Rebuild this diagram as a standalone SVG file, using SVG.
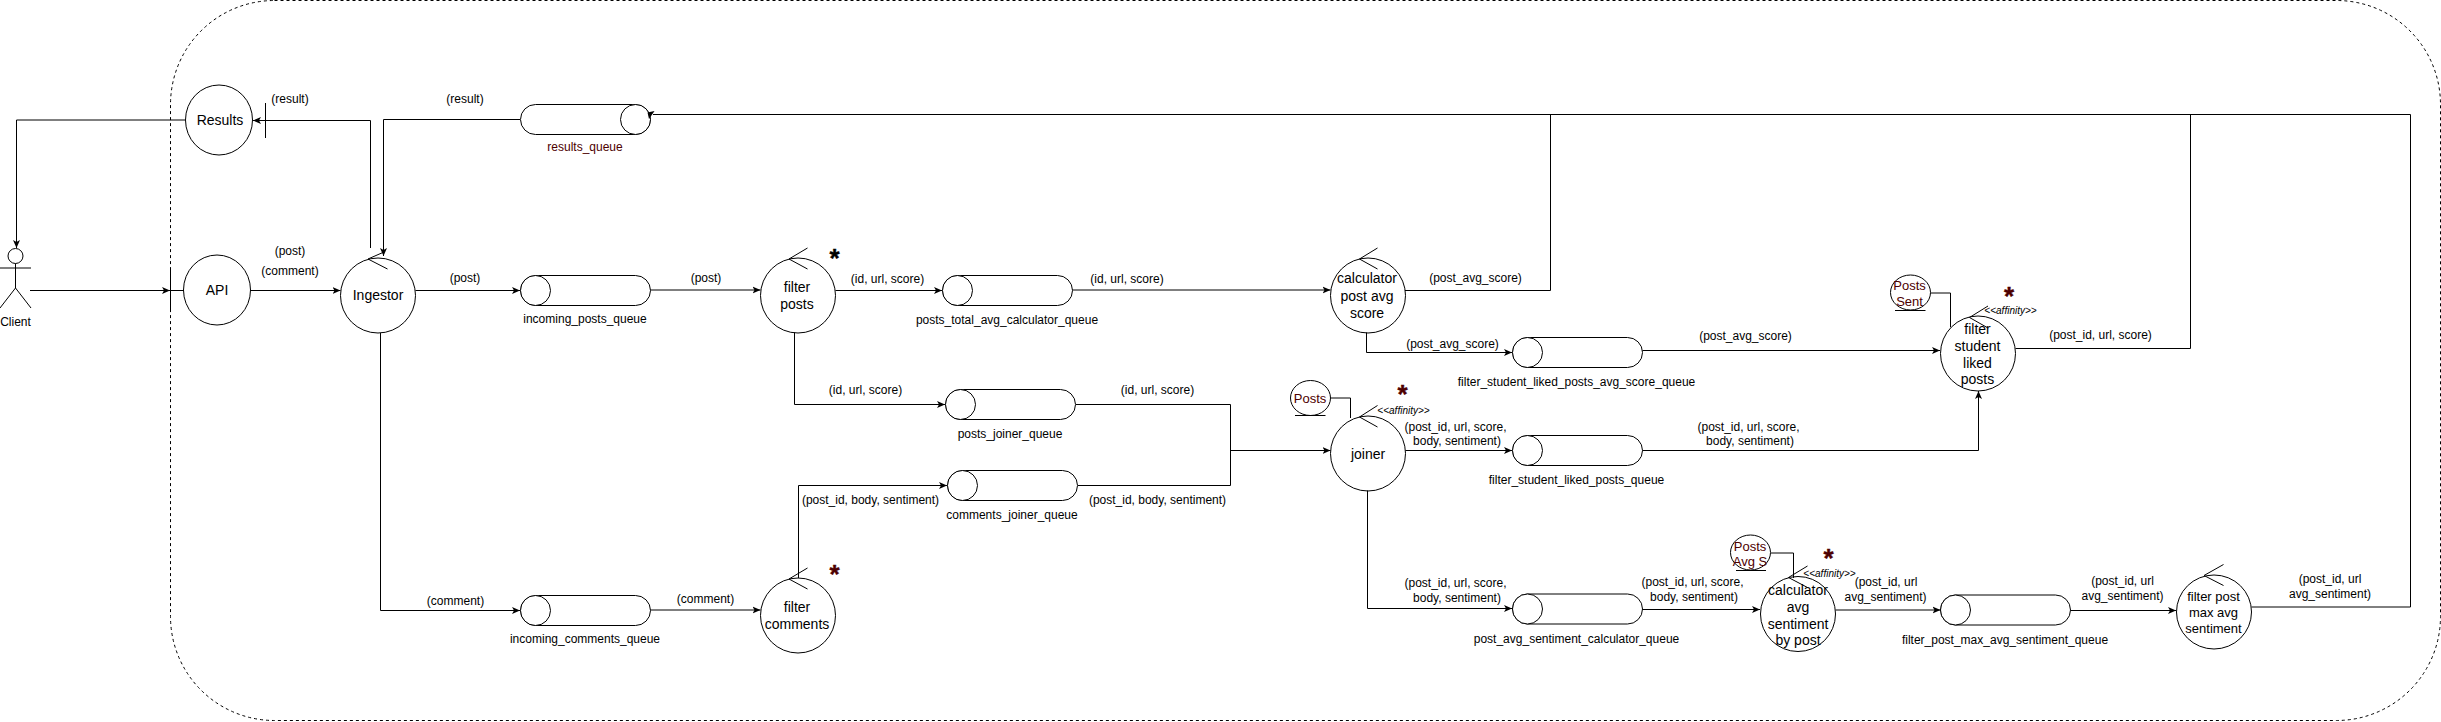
<svg xmlns="http://www.w3.org/2000/svg" width="2441" height="722" viewBox="0 0 2441 722">
<style>
text{font-family:"Liberation Sans",Arial,sans-serif;font-size:12px;fill:#000;text-anchor:middle;dominant-baseline:central}
.n{font-size:14px}
.m{font-size:13px}
.d{fill:#4d0000}
.aff{font-size:10px;font-style:italic}
.star{font-size:26px;font-weight:bold;stroke:currentColor;stroke-width:0.4}
ellipse,rect.q{fill:#fff;stroke:#000;stroke-width:1}
.c path{fill:none;stroke:#000;stroke-width:1}
.c path.h{fill:#000;stroke:none}
.a{marker-end:url(#ah)}
.l{fill:none;stroke:#000;stroke-width:1}
</style>
<defs>
<marker id="ah" viewBox="0 0 8 8" refX="8" refY="4" markerWidth="8" markerHeight="8" markerUnits="userSpaceOnUse" orient="auto"><path d="M0 0.5L8 4L0 7.5L2 4Z" fill="#000"/></marker>
<g id="queue"><rect class="q" x="0" y="0" width="130" height="30" rx="15" ry="15"/></g>
</defs>
<rect id="boundary" x="170.5" y="0.5" width="2270" height="720" rx="104" ry="104" fill="none" stroke="#000" stroke-width="1" stroke-dasharray="3 3"/>
<g id="edge-labels">
<text x="290" y="99">(result)</text>
<text x="465" y="99">(result)</text>
<text x="290" y="251">(post)</text>
<text x="290" y="271">(comment)</text>
<text x="465" y="278">(post)</text>
<text x="706" y="278">(post)</text>
<text x="887.5" y="279">(id, url, score)</text>
<text x="1127" y="279">(id, url, score)</text>
<text x="865.5" y="390">(id, url, score)</text>
<text x="1157.5" y="390">(id, url, score)</text>
<text x="870.5" y="499.5">(post_id, body, sentiment)</text>
<text x="1157.5" y="499.5">(post_id, body, sentiment)</text>
<text x="455.5" y="601">(comment)</text>
<text x="705.5" y="599">(comment)</text>
<text x="1475.5" y="278">(post_avg_score)</text>
<text x="1452.5" y="343.5">(post_avg_score)</text>
<text x="1745.5" y="335.5">(post_avg_score)</text>
<text x="2100.5" y="335">(post_id, url, score)</text>
<text x="1455.5" y="426.5">(post_id, url, score,</text>
<text x="1457" y="441">body, sentiment)</text>
<text x="1748.5" y="426.5">(post_id, url, score,</text>
<text x="1750" y="441">body, sentiment)</text>
<text x="1455.5" y="583">(post_id, url, score,</text>
<text x="1457" y="598">body, sentiment)</text>
<text x="1692.5" y="582">(post_id, url, score,</text>
<text x="1694" y="597">body, sentiment)</text>
<text x="1886" y="582">(post_id, url</text>
<text x="1885.5" y="597">avg_sentiment)</text>
<text x="2122.5" y="581">(post_id, url</text>
<text x="2122.5" y="596">avg_sentiment)</text>
<text x="2330" y="578.5">(post_id, url</text>
<text x="2330" y="593.5">avg_sentiment)</text>
</g>
<g id="client">
<ellipse cx="15.5" cy="256" rx="7.5" ry="7.5"/>
<path class="l" d="M15.5 263.5V288M0 308L15.5 288L31 308"/>
<path class="l" d="M0 268H31"/>
<text x="15.5" y="322">Client</text>
</g>
<g id="api"><path class="l" d="M170.5 270V310"/><ellipse cx="217" cy="290" rx="33.5" ry="35"/><text class="n" x="217" y="290">API</text></g>
<g id="results"><path class="l" d="M265.5 103V138"/><ellipse cx="219" cy="120" rx="33.5" ry="35"/><text class="n" x="220" y="120">Results</text></g>
<g id="ingestor"><ellipse cx="378" cy="295.5" rx="37.5" ry="37.5"/><path class="l" d="M384 252L368 259L387.5 269"/><text class="n" x="378" y="295">Ingestor</text></g>
<g id="results_queue"><use href="#queue" x="520.5" y="104.5"/><ellipse cx="635.5" cy="119.5" rx="15" ry="15"/><text class="d" x="585" y="147">results_queue</text></g>
<g id="incoming_posts_queue"><use href="#queue" x="520.5" y="275.5"/><ellipse cx="535.5" cy="290.5" rx="15" ry="15"/><text x="585" y="319">incoming_posts_queue</text></g>
<g id="incoming_comments_queue"><use href="#queue" x="520.5" y="595.5"/><ellipse cx="535.5" cy="610.5" rx="15" ry="15"/><text x="585" y="639">incoming_comments_queue</text></g>
<g id="filter_posts"><ellipse cx="798" cy="295.5" rx="37.5" ry="37.5"/><path class="l" d="M807.5 248L789 259L807.5 269"/><text class="n" x="797" y="287">filter</text><text class="n" x="797" y="304">posts</text><text class="star" x="834.5" y="258">*</text></g>
<g id="filter_comments"><ellipse cx="798" cy="615.5" rx="37.5" ry="37.5"/><path class="l" d="M807.5 568L789 579L807.5 589"/><text class="n" x="797" y="607">filter</text><text class="n" x="797" y="624">comments</text><text class="star d" x="834.5" y="574" color="#4d0000">*</text></g>
<g id="posts_total_avg_calculator_queue"><use href="#queue" x="942.5" y="275.5"/><ellipse cx="957.5" cy="290.5" rx="15" ry="15"/><text x="1007" y="320">posts_total_avg_calculator_queue</text></g>
<g id="posts_joiner_queue"><use href="#queue" x="945.5" y="389.5"/><ellipse cx="960.5" cy="404.5" rx="15" ry="15"/><text x="1010" y="434">posts_joiner_queue</text></g>
<g id="comments_joiner_queue"><use href="#queue" x="947.5" y="470.5"/><ellipse cx="962.5" cy="485.5" rx="15" ry="15"/><text x="1012" y="515">comments_joiner_queue</text></g>
<g id="calculator_post_avg_score"><ellipse cx="1368" cy="295.5" rx="37.5" ry="37.5"/><path class="l" d="M1377.5 248L1359.5 259L1377.5 269"/><text class="n" x="1367" y="278">calculator</text><text class="n" x="1367" y="295.5">post avg</text><text class="n" x="1367" y="312.5">score</text></g>
<g id="filter_student_liked_posts_avg_score_queue"><use href="#queue" x="1512.5" y="337.5"/><ellipse cx="1527.5" cy="352.5" rx="15" ry="15"/><text x="1576.5" y="382">filter_student_liked_posts_avg_score_queue</text></g>
<g id="filter_student_liked_posts_queue"><use href="#queue" x="1512.5" y="435.5"/><ellipse cx="1527.5" cy="450.5" rx="15" ry="15"/><text x="1576.5" y="480">filter_student_liked_posts_queue</text></g>
<g id="post_avg_sentiment_calculator_queue"><use href="#queue" x="1512.5" y="594"/><ellipse cx="1527.5" cy="609" rx="15" ry="15"/><text x="1576.5" y="639">post_avg_sentiment_calculator_queue</text></g>
<g id="filter_post_max_avg_sentiment_queue"><use href="#queue" x="1940.5" y="595"/><ellipse cx="1955.5" cy="610" rx="15" ry="15"/><text x="2005" y="640">filter_post_max_avg_sentiment_queue</text></g>
<g id="joiner"><ellipse cx="1368" cy="453.5" rx="37.5" ry="37.5"/><path class="l" d="M1377.5 405.5L1359.5 417L1377.5 427"/><text class="n" x="1368" y="453.5">joiner</text><text class="aff" x="1403.5" y="410">&lt;&lt;affinity&gt;&gt;</text><text class="star d" x="1402.5" y="394" color="#4d0000">*</text></g>
<g id="posts_store"><ellipse cx="1310.5" cy="398" rx="20" ry="17.5"/><path class="l" d="M1295 415.5H1325.5"/><text class="m d" x="1310" y="398">Posts</text></g>
<g id="filter_student_liked_posts"><ellipse cx="1978" cy="353.5" rx="37.5" ry="37.5"/><path class="l" d="M1988 306L1969.5 317.5L1988 328"/><text class="n" x="1977.5" y="328.5">filter</text><text class="n" x="1977.5" y="345.5">student</text><text class="n" x="1977.5" y="362.5">liked</text><text class="n" x="1977.5" y="378.5">posts</text><text class="aff" x="2010.5" y="310.5">&lt;&lt;affinity&gt;&gt;</text><text class="star d" x="2009" y="296" color="#4d0000">*</text></g>
<g id="posts_sent"><ellipse cx="1910.5" cy="292.5" rx="20" ry="17.5"/><path class="l" d="M1895 310.5H1925.5"/><text class="m d" x="1909.5" y="285.5">Posts</text><text class="m d" x="1909.5" y="301.5">Sent</text></g>
<g id="calculator_avg_sentiment"><ellipse cx="1798" cy="614" rx="37.5" ry="37.5"/><path class="l" d="M1807.5 566L1788.5 577.5L1807.5 587.5"/><text class="n" x="1798" y="589.5">calculator</text><text class="n" x="1798" y="606.5">avg</text><text class="n" x="1798" y="623.5">sentiment</text><text class="n" x="1798" y="639.5">by post</text><text class="aff" x="1829.5" y="573.5">&lt;&lt;affinity&gt;&gt;</text><text class="star d" x="1828.5" y="558" color="#4d0000">*</text></g>
<g id="posts_avg_s"><ellipse cx="1750.5" cy="552.5" rx="20" ry="17.5"/><path class="l" d="M1736 570.5H1766"/><text class="m d" x="1750" y="546">Posts</text><text class="m d" x="1750" y="561.5">Avg S</text></g>
<g id="filter_post_max"><ellipse cx="2214" cy="612" rx="37.5" ry="37"/><path class="l" d="M2223.5 564.5L2204 575.5L2223.5 585.5"/><text class="m" x="2213.5" y="596.5">filter post</text><text class="m" x="2213.5" y="612.5">max avg</text><text class="m" x="2213.5" y="628">sentiment</text></g>
<g id="connectors" class="c">
<path class="a" d="M185 120H16.5V248"/>
<path class="a" d="M370.5 248V120.5H253"/>
<path class="a" d="M520 119.5H383.5V256"/>
<path class="a" d="M30 290.5H170"/>
<path d="M170 290.5H184"/>
<path class="a" d="M250.5 290.5H340.5"/>
<path class="a" d="M415.5 290.5H520"/>
<path class="a" d="M650.5 290H760.5"/>
<path class="a" d="M835.5 290.5H942"/>
<path class="a" d="M1072.5 290H1330.5"/>
<path class="a" d="M794.5 332.5V404.5H945"/>
<path class="a" d="M380.5 333V610.5H520"/>
<path class="a" d="M650.5 610H760.5"/>
<path class="a" d="M798.5 578V485.5H947"/>
<path d="M1076 404.5H1230.5V485.5H1078"/>
<path class="a" d="M1230.5 450.5H1330.5"/>
<path d="M1405 290.5H1550.5V114.5"/>
<path d="M2410.5 114.5H653"/>
<path class="h" d="M654.5 111L649 119L647.5 112.5Z"/>
<path d="M2015.5 348.5H2190.5V114.5"/>
<path d="M2251.5 607H2410.5V114.5"/>
<path class="a" d="M1366.5 332.5V352.5H1512"/>
<path class="a" d="M1642.5 350.5H1940"/>
<path class="a" d="M1405.5 450.5H1512"/>
<path class="a" d="M1642.5 450.5H1978.5V391"/>
<path class="a" d="M1367.5 490.5V608.5H1512"/>
<path class="a" d="M1642.5 609.5H1760"/>
<path class="a" d="M1835.5 610H1940.5"/>
<path class="a" d="M2071 610.5H2176"/>
<path d="M1331 398H1350.5V418"/>
<path d="M1930.5 293H1950.5V327"/>
<path d="M1771 553H1793.5V578"/>
</g>
</svg>
